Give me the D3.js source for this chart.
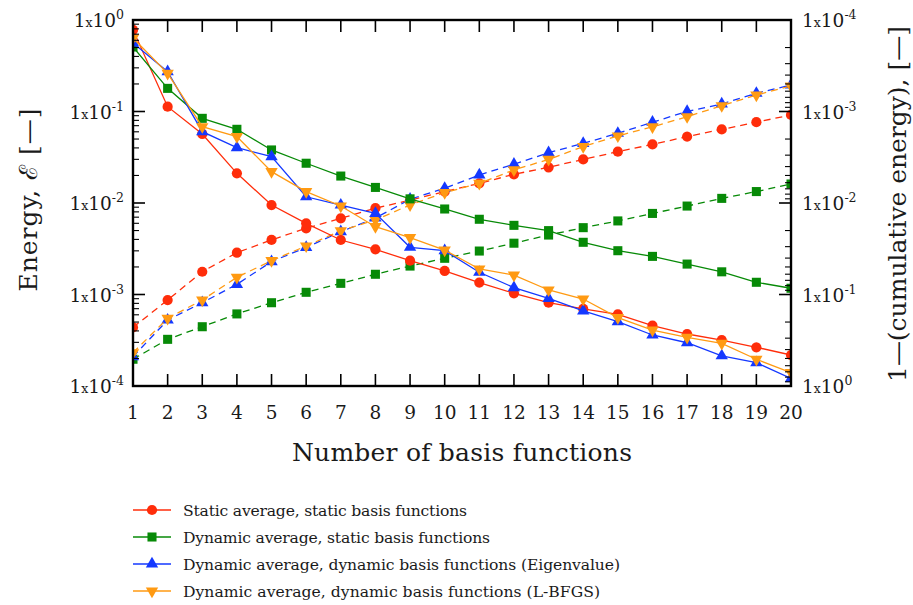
<!DOCTYPE html>
<html lang="en">
<head>
<meta charset="UTF-8">
<title>Energy vs number of basis functions</title>
<script src="https://d3js.org/d3.v7.min.js"></script>
<style>
  body { margin: 0; background: #fff; }
  text { font-family: "DejaVu Serif", "Liberation Serif", serif; fill: #1a1a1a; }
</style>
</head>
<body>
<svg id="chart" width="913" height="605"></svg>
<script>
// number of basis functions
const nBasis = [1, 2, 3, 4, 5, 6, 7, 8, 9, 10, 11, 12, 13, 14, 15, 16, 17, 18, 19, 20];

// energy (left axis, solid lines)
const energyStaticStatic = [0.778, 0.113, 0.0568, 0.0211, 0.0095, 0.0060, 0.00394, 0.00312, 0.00234, 0.00181, 0.00135, 0.00103, 0.000814, 0.000695, 0.000607, 0.000456, 0.00037, 0.000318, 0.000265, 0.000218];
const energyDynStatic = [0.507, 0.179, 0.0842, 0.0639, 0.0380, 0.0272, 0.0197, 0.0148, 0.0111, 0.0086, 0.00664, 0.0057, 0.00499, 0.00372, 0.00301, 0.00261, 0.00215, 0.00177, 0.00136, 0.00117];
const energyDynEig = [0.561, 0.272, 0.0602, 0.0402, 0.0321, 0.0117, 0.0095, 0.00771, 0.00328, 0.00301, 0.00175, 0.00119, 0.000908, 0.000661, 0.000505, 0.000361, 0.000297, 0.000214, 0.00018, 0.000121];
const energyDynLbfgs = [0.636, 0.261, 0.0682, 0.0531, 0.0220, 0.0133, 0.00927, 0.00551, 0.00418, 0.00306, 0.0019, 0.00163, 0.00112, 0.000893, 0.000558, 0.000409, 0.00034, 0.000292, 0.000196, 0.00014];

// 1 - cumulative energy (right axis, dashed lines)
const residStaticStatic = [0.229, 0.115, 0.0564, 0.0349, 0.0253, 0.0189, 0.0147, 0.0114, 0.0093, 0.0075, 0.0061, 0.00486, 0.00407, 0.00334, 0.00275, 0.00229, 0.00188, 0.00157, 0.00131, 0.00109];
const residDynStatic = [0.51, 0.309, 0.225, 0.163, 0.123, 0.0946, 0.0755, 0.0601, 0.0489, 0.0402, 0.0335, 0.0275, 0.0224, 0.0186, 0.0157, 0.0130, 0.0108, 0.0089, 0.0075, 0.0062];
const residDynEig = [0.479, 0.190, 0.123, 0.0774, 0.0437, 0.0306, 0.0206, 0.0146, 0.0091, 0.0069, 0.00494, 0.00377, 0.00282, 0.00223, 0.00173, 0.00131, 0.0010, 0.000828, 0.000632, 0.000513];
const residDynLbfgs = [0.433, 0.182, 0.115, 0.0649, 0.0427, 0.0295, 0.0201, 0.0153, 0.0105, 0.0077, 0.0061, 0.00435, 0.00334, 0.00242, 0.00185, 0.00147, 0.00114, 0.000865, 0.000661, 0.000526];

const seriesNames = [
  "Static average, static basis functions",
  "Dynamic average, static basis functions",
  "Dynamic average, dynamic basis functions (Eigenvalue)",
  "Dynamic average, dynamic basis functions (L-BFGS)"
];
const legendWidths = [284, 307, 437, 417];
const decadeExps = [0, -1, -2, -3, -4];

const series = [
  { name: seriesNames[0], energy: energyStaticStatic, resid: residStaticStatic, color: "#ff2d0a", marker: "circle" },
  { name: seriesNames[1], energy: energyDynStatic, resid: residDynStatic, color: "#078a07", marker: "square" },
  { name: seriesNames[2], energy: energyDynEig, resid: residDynEig, color: "#1438ff", marker: "triUp" },
  { name: seriesNames[3], energy: energyDynLbfgs, resid: residDynLbfgs, color: "#ff9a12", marker: "triDown" }
];

const svg = d3.select("#chart");
const plotL = 133, plotR = 791, plotT = 20, plotB = 386;

const x = d3.scaleLinear().domain([1, 20]).range([plotL, plotR]);
const yL = d3.scaleLog().domain([1e-4, 1]).range([plotB, plotT]);
const yR = d3.scaleLog().domain([1e-4, 1]).range([plotT, plotB]);

// markers
const symbolFor = {
  circle: d3.symbol().type(d3.symbolCircle).size(82),
  square: d3.symbol().type(d3.symbolSquare).size(82),
  triUp: d3.symbol().type(d3.symbolTriangle).size(66),
  triDown: d3.symbol().type(d3.symbolTriangle).size(66)
};
function markerTransform(m, px, py) {
  return m === "triDown" ? `translate(${px},${py}) rotate(180)` : `translate(${px},${py})`;
}

svg.append("clipPath").attr("id", "plotClip")
  .append("rect").attr("x", plotL).attr("y", plotT).attr("width", plotR - plotL).attr("height", plotB - plotT);

const plot = svg.append("g").attr("clip-path", "url(#plotClip)");

// dashed (right axis) then solid (left axis)
series.forEach(s => {
  const line = d3.line().x((d, i) => x(nBasis[i])).y(d => yR(d));
  plot.append("path").datum(s.resid)
    .attr("d", line).attr("fill", "none")
    .attr("stroke", s.color).attr("stroke-width", 1.3)
    .attr("stroke-dasharray", "7,5");
  plot.selectAll(null).data(s.resid).enter().append("path")
    .attr("d", symbolFor[s.marker])
    .attr("transform", (d, i) => markerTransform(s.marker, x(nBasis[i]), yR(d)))
    .attr("fill", s.color);
});
series.forEach(s => {
  const line = d3.line().x((d, i) => x(nBasis[i])).y(d => yL(d));
  plot.append("path").datum(s.energy)
    .attr("d", line).attr("fill", "none")
    .attr("stroke", s.color).attr("stroke-width", 1.3);
  plot.selectAll(null).data(s.energy).enter().append("path")
    .attr("d", symbolFor[s.marker])
    .attr("transform", (d, i) => markerTransform(s.marker, x(nBasis[i]), yL(d)))
    .attr("fill", s.color);
});

// ticks
const axisG = svg.append("g").attr("stroke", "#000");
const majorLen = 12, minorLen = 6;
nBasis.forEach(v => {
  axisG.append("line").attr("x1", x(v)).attr("x2", x(v)).attr("y1", plotB).attr("y2", plotB - majorLen).attr("stroke-width", 1.6);
  axisG.append("line").attr("x1", x(v)).attr("x2", x(v)).attr("y1", plotT).attr("y2", plotT + majorLen).attr("stroke-width", 1.6);
});
const logTicks = [];
decadeExps.forEach(e => {
  if (e === 0) { logTicks.push({ v: 1, major: true }); return; }
  for (let k = 1; k <= 9; k++) logTicks.push({ v: k * Math.pow(10, e), major: k === 1 });
});
logTicks.forEach(t => {
  const len = t.major ? majorLen : minorLen;
  axisG.append("line").attr("x1", plotL).attr("x2", plotL + len).attr("y1", yL(t.v)).attr("y2", yL(t.v)).attr("stroke-width", t.major ? 1.6 : 1.1);
  axisG.append("line").attr("x1", plotR).attr("x2", plotR - len).attr("y1", yR(t.v)).attr("y2", yR(t.v)).attr("stroke-width", t.major ? 1.6 : 1.1);
});

// frame
svg.append("rect").attr("x", plotL).attr("y", plotT).attr("width", plotR - plotL).attr("height", plotB - plotT)
  .attr("fill", "none").attr("stroke", "#000").attr("stroke-width", 2.4);

// tick labels
function sciLabel(g, e, px, py, anchor) {
  const t = g.append("text").attr("x", px).attr("y", py).attr("text-anchor", anchor).attr("font-size", 18.5);
  t.append("tspan").text("1");
  t.append("tspan").attr("font-size", 12.5).text("x");
  t.append("tspan").text("10");
  t.append("tspan").attr("font-size", 12.5).attr("dy", -8).text(e);
}
const labels = svg.append("g");
decadeExps.forEach(e => {
  sciLabel(labels, e, 124, yL(Math.pow(10, e)) + 7, "end");
  sciLabel(labels, e, 802, yR(Math.pow(10, e)) + 7, "start");
});
nBasis.forEach(v => {
  labels.append("text").attr("x", x(v)).attr("y", 419).attr("text-anchor", "middle")
    .attr("font-size", 18.5).text(v);
});

// axis titles
svg.append("text").attr("x", 462).attr("y", 461).attr("text-anchor", "middle")
  .attr("font-size", 25).attr("textLength", 340).attr("lengthAdjust", "spacing")
  .text("Number of basis functions");
svg.append("text").attr("transform", "translate(37,200) rotate(-90)").attr("text-anchor", "middle")
  .attr("font-size", 25).attr("textLength", 183).attr("lengthAdjust", "spacing")
  .text("Energy, \u2130 [\u2014]");
svg.append("text").attr("transform", "translate(906,204) rotate(-90)").attr("text-anchor", "middle")
  .attr("font-size", 25).attr("textLength", 356).attr("lengthAdjust", "spacing")
  .text("1\u2014(cumulative energy), [\u2014]");

// legend
const legend = svg.append("g");
series.forEach((s, i) => {
  const ly = 510 + i * 27;
  legend.append("line").attr("x1", 133).attr("x2", 171).attr("y1", ly).attr("y2", ly)
    .attr("stroke", s.color).attr("stroke-width", 1.3);
  legend.append("path").attr("d", symbolFor[s.marker])
    .attr("transform", markerTransform(s.marker, 152, ly)).attr("fill", s.color);
  legend.append("text").attr("x", 183).attr("y", ly + 5.5).attr("font-size", 15.6)
    .attr("textLength", legendWidths[i]).attr("lengthAdjust", "spacing").text(s.name);
});
</script>
</body>
</html>
